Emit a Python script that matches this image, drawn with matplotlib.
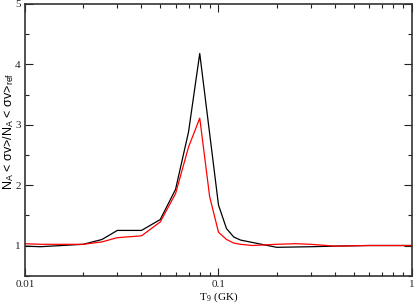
import matplotlib
matplotlib.use("Agg")
import matplotlib.pyplot as plt
from matplotlib.ticker import MultipleLocator, FixedLocator, NullFormatter, LogLocator

plt.rcParams['font.family'] = ['Liberation Serif', 'DejaVu Serif']
plt.rcParams['mathtext.fontset'] = 'custom'
plt.rcParams['mathtext.rm'] = 'Liberation Serif'
plt.rcParams['mathtext.it'] = 'Liberation Serif:italic'
plt.rcParams['mathtext.sf'] = 'Liberation Sans'

T9_black = [0.01, 0.012, 0.02, 0.025, 0.03, 0.04, 0.05, 0.06, 0.07, 0.08, 0.1,
            0.11, 0.12, 0.13, 0.15, 0.2, 0.3, 0.4, 0.6, 1.0]
ratio_black = [0.99, 0.98, 1.02, 1.10, 1.25, 1.25, 1.43, 1.93, 2.88, 4.18, 1.67,
               1.28, 1.14, 1.09, 1.05, 0.97, 0.98, 0.99, 1.0, 1.0]

T9_red = [0.01, 0.012, 0.02, 0.025, 0.03, 0.04, 0.05, 0.06, 0.07, 0.08, 0.09, 0.1,
          0.11, 0.12, 0.13, 0.15, 0.2, 0.25, 0.3, 0.4, 0.6, 1.0]
ratio_red = [1.03, 1.02, 1.02, 1.06, 1.13, 1.16, 1.39, 1.86, 2.63, 3.11, 1.81, 1.22,
             1.10, 1.04, 1.02, 1.00, 1.02, 1.03, 1.02, 0.99, 1.0, 1.0]

fig = plt.figure(figsize=(4.15, 3.03), dpi=100)
ax = fig.add_axes([0.0602, 0.0901, 0.9326, 0.8967])

ax.plot(T9_black, ratio_black, color='black', lw=0.9)
ax.plot(T9_red, ratio_red, color='red', lw=0.9)

ax.set_xscale('log')
ax.set_xlim(0.01, 1)
ax.set_ylim(0.5, 5)
ax.set_xticks([0.01, 0.1, 1])
ax.set_xticklabels(['0.01', '0.1', '1'])
ax.xaxis.set_minor_locator(LogLocator(base=10, subs=range(2, 10)))
ax.xaxis.set_minor_formatter(NullFormatter())
ax.yaxis.set_major_locator(FixedLocator([1, 2, 3, 4, 5]))
ax.yaxis.set_minor_locator(MultipleLocator(0.5))

for s in ax.spines.values():
    s.set_linewidth(1.2)
    s.set_color('#333333')

ax.tick_params(which='both', direction='in', top=True, right=True,
               labelsize=8, colors='#222222', pad=3)
ax.tick_params(which='major', length=5.5, width=0.8)
ax.tick_params(which='minor', length=3, width=0.8)

ax.set_xlabel(r'T$_{\,9}$ (GK)', fontsize=8, labelpad=1)
ax.set_ylabel(r'N$_{\mathsf{A}}$ < σv>/N$_{\mathsf{A}}$ < σv>$_{\mathsf{ref}}$',
              fontsize=9, family=['Liberation Sans', 'DejaVu Sans'])
ax.yaxis.set_label_coords(-0.022, 0.53)

fig.savefig('out.png', dpi=100)
